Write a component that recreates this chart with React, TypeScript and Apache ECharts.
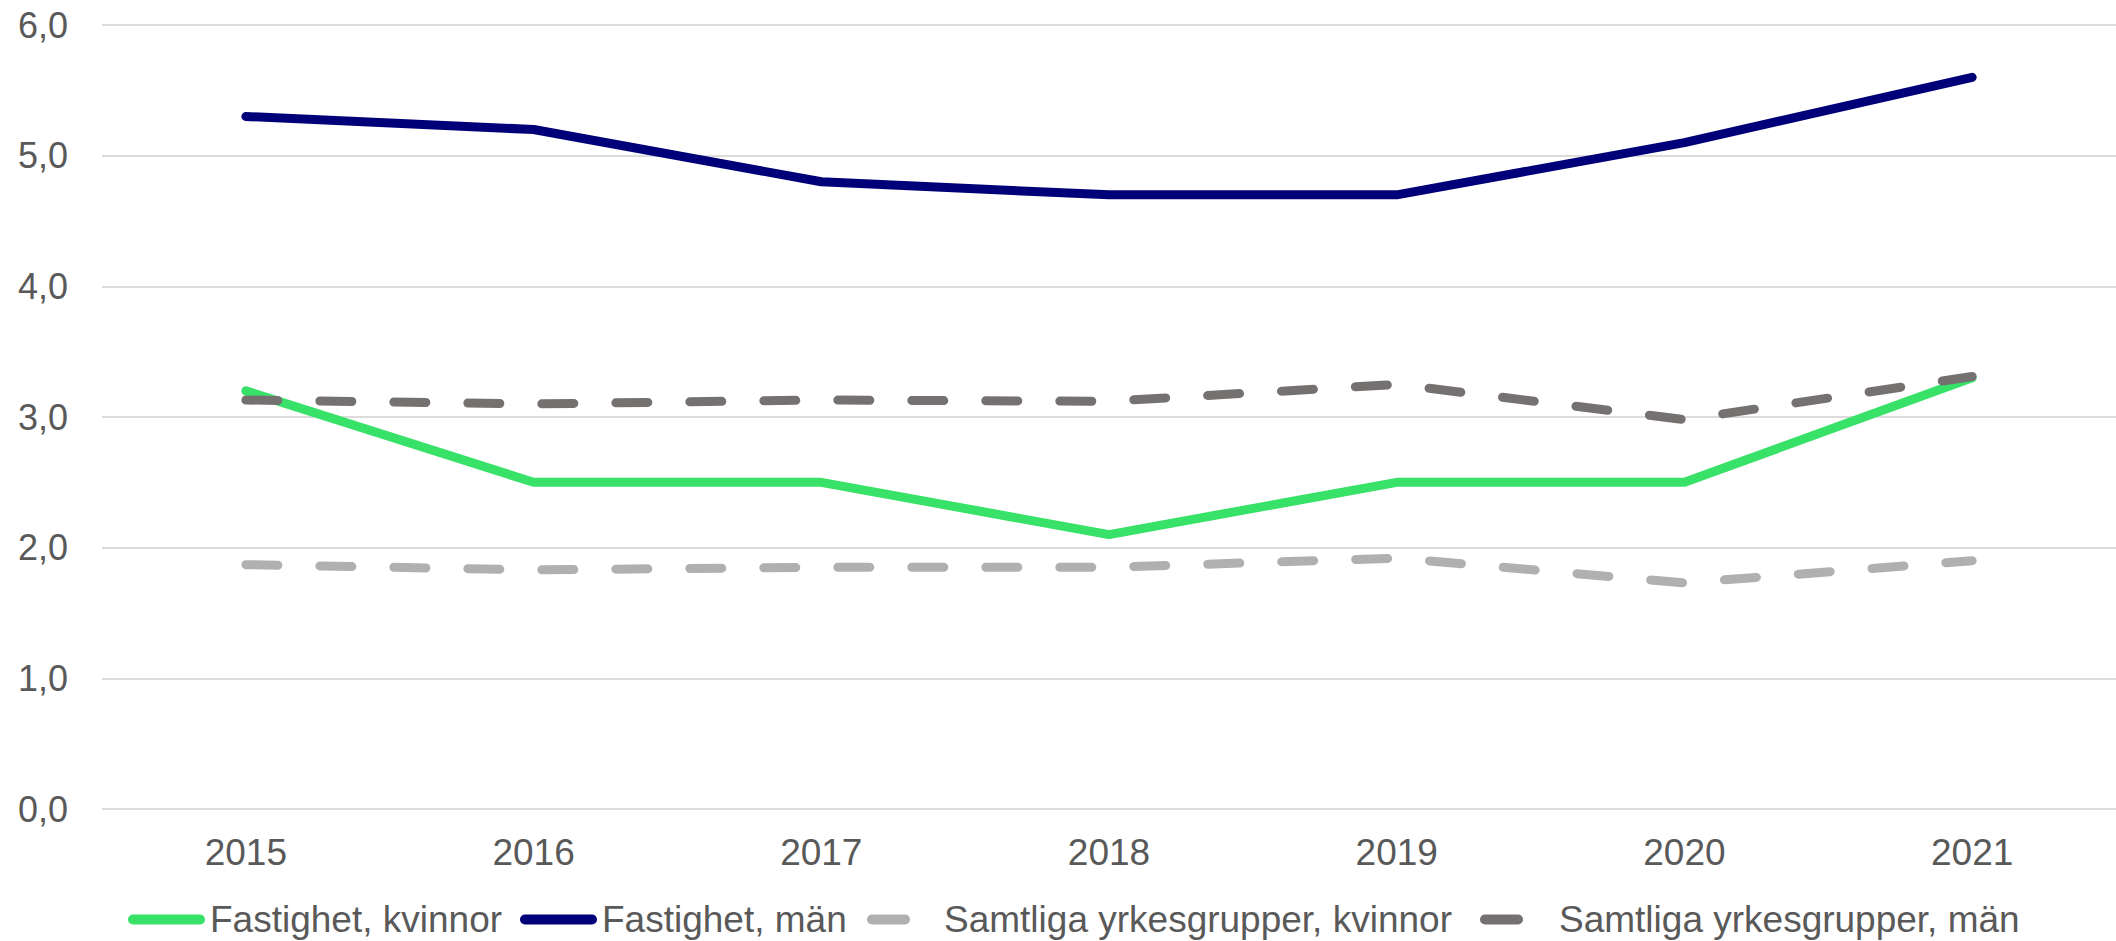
import React, { useEffect, useRef } from "react";
import * as echarts from "echarts";

const years = ["2015", "2016", "2017", "2018", "2019", "2020", "2021"];
const fastighetKvinnor = [3.2, 2.5, 2.5, 2.1, 2.5, 2.5, 3.3];
const fastighetMan = [5.3, 5.2, 4.8, 4.7, 4.7, 5.1, 5.6];
const samtligaKvinnor = [1.87, 1.83, 1.85, 1.85, 1.92, 1.73, 1.9];
const samtligaMan = [3.13, 3.1, 3.13, 3.12, 3.25, 2.98, 3.31];

const names = [
  "Fastighet, kvinnor",
  "Fastighet, män",
  "Samtliga yrkesgrupper, kvinnor",
  "Samtliga yrkesgrupper, män",
];
const colors = ["#38E268", "#000078", "#B0B0B0", "#767171"];

const FONT = "'Liberation Sans', Arial, sans-serif";
const TEXT = "#595959";

const longIcon = "path://M5,0 L72,0 A5,5 0 0 1 72,10 L5,10 A5,5 0 0 1 5,0 Z";
const shortIcon = "path://M5,0 L38,0 A5,5 0 0 1 38,10 L5,10 A5,5 0 0 1 5,0 Z";

export default function App() {
  const ref = useRef<HTMLDivElement>(null);
  useEffect(() => {
    if (!ref.current) return;
    const chart = echarts.init(ref.current, undefined, { renderer: "svg" });
    const dash = [32, 42];
    const mkSeries = (i: number, data: number[], dashed: boolean) => ({
      name: names[i],
      type: "line",
      data,
      symbol: "none",
      showSymbol: false,
      smooth: false,
      lineStyle: {
        color: colors[i],
        width: 9,
        type: dashed ? dash : "solid",
        cap: "round",
        join: "round",
      },
      itemStyle: { color: colors[i] },
      emphasis: { disabled: true },
    });
    const legendBase = {
      orient: "horizontal",
      top: 901,
      padding: 0,
      itemHeight: 10,
      selectedMode: false,
      textStyle: { fontFamily: FONT, fontSize: 37, color: TEXT },
    };
    chart.setOption({
      animation: false,
      backgroundColor: "#ffffff",
      grid: { left: 102, right: 0, top: 25, bottom: 132 },
      xAxis: {
        type: "category",
        data: years,
        boundaryGap: true,
        axisLine: { show: false },
        axisTick: { show: false },
        axisLabel: {
          color: TEXT,
          fontFamily: FONT,
          fontSize: 37,
          margin: 25,
        },
      },
      yAxis: {
        type: "value",
        min: 0,
        max: 6,
        interval: 1,
        axisLine: { show: false },
        axisTick: { show: false },
        splitLine: { lineStyle: { color: "#DCDCDC", width: 2 } },
        axisLabel: {
          color: TEXT,
          fontFamily: FONT,
          fontSize: 36,
          margin: 34,
          formatter: (v: number) => v.toFixed(1).replace(".", ","),
        },
      },
      legend: [
        {
          ...legendBase,
          left: 128,
          itemWidth: 77,
          data: [{ name: names[0], icon: longIcon, itemStyle: { color: colors[0] } }],
        },
        {
          ...legendBase,
          left: 520,
          itemWidth: 77,
          data: [{ name: names[1], icon: longIcon, itemStyle: { color: colors[1] } }],
        },
        {
          ...legendBase,
          left: 867,
          itemWidth: 43,
          data: [{ name: names[2], icon: shortIcon, itemStyle: { color: colors[2] } }],
          textStyle: { ...legendBase.textStyle, padding: [0, 0, 0, 29] },
        },
        {
          ...legendBase,
          left: 1480,
          itemWidth: 43,
          data: [{ name: names[3], icon: shortIcon, itemStyle: { color: colors[3] } }],
          textStyle: { ...legendBase.textStyle, padding: [0, 0, 0, 31] },
        },
      ],
      series: [
        mkSeries(0, fastighetKvinnor, false),
        mkSeries(1, fastighetMan, false),
        mkSeries(2, samtligaKvinnor, true),
        mkSeries(3, samtligaMan, true),
      ],
    });
    return () => chart.dispose();
  }, []);
  return (
    <div
      ref={ref}
      style={{ position: "fixed", left: 0, top: 0, width: 2116, height: 941, background: "#fff" }}
    />
  );
}
